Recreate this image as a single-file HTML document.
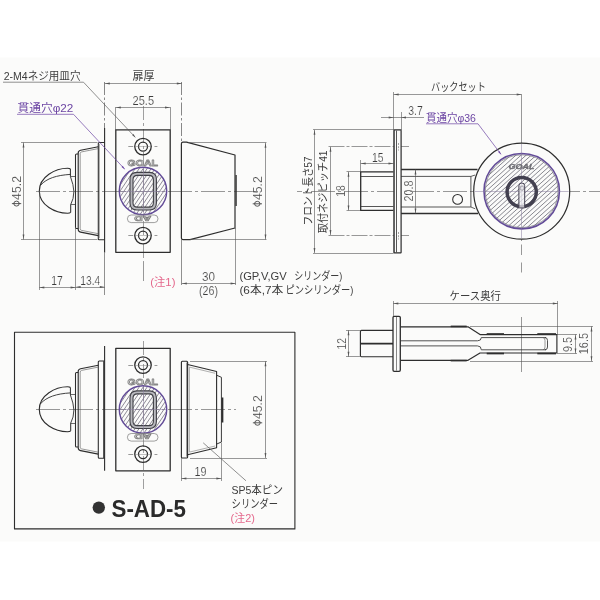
<!DOCTYPE html>
<html lang="ja"><head><meta charset="utf-8"><title>S-AD-5 寸法図</title>
<style>
html,body{margin:0;padding:0;background:#ffffff;}
body{width:600px;height:600px;overflow:hidden;font-family:"Liberation Sans","Noto Sans CJK JP",sans-serif;}
svg{display:block;font-family:"Liberation Sans","Noto Sans CJK JP",sans-serif;}
.jt{font-family:"Liberation Sans","Noto Sans CJK JP",sans-serif;stroke:none;}
</style></head><body>
<svg width="600" height="600" viewBox="0 0 600 600">
<defs>
<filter id="soft" x="0" y="0" width="600" height="600" filterUnits="userSpaceOnUse"><feGaussianBlur stdDeviation="0.38"/></filter>
</defs>
<desc>GOAL S-AD-5 本締錠 寸法図: 扉厚, バックセット, ケース奥行, フロント長さ57, 取付ネジピッチ41, 貫通穴φ22, 貫通穴φ36, 2-M4ネジ用皿穴</desc>
<rect x="0" y="0" width="600" height="600" fill="#ffffff"/>
<rect x="0" y="57.5" width="600" height="484" fill="#fbfbfa"/>
<g fill="none" stroke-linecap="butt" stroke-linejoin="round" filter="url(#soft)">
<line x1="36" y1="191.5" x2="262" y2="191.5" stroke="#555555" stroke-width="0.6" stroke-dasharray="24 3 3 3"/>
<line x1="143.5" y1="106" x2="143.5" y2="262" stroke="#555555" stroke-width="0.55" stroke-dasharray="14 3 3 3"/>
<line x1="143.5" y1="262" x2="143.5" y2="281" stroke="#555555" stroke-width="0.6" />
<line x1="104.5" y1="82" x2="104.5" y2="128" stroke="#555555" stroke-width="0.7" stroke-dasharray="13 2.5 2.5 2.5"/>
<line x1="104.5" y1="252.5" x2="104.5" y2="295" stroke="#555555" stroke-width="0.65" />
<line x1="104.6" y1="128" x2="104.6" y2="252.5" stroke="#2d2d2d" stroke-width="1.1" />
<line x1="181.5" y1="82" x2="181.5" y2="142" stroke="#555555" stroke-width="0.7" stroke-dasharray="13 2.5 2.5 2.5"/>
<line x1="181.5" y1="240" x2="181.5" y2="285" stroke="#555555" stroke-width="0.65" />
<line x1="104.8" y1="83.5" x2="181.8" y2="83.5" stroke="#555555" stroke-width="0.6" />
<path d="M104.80 83.50L109.80 82.60L109.80 84.40Z" fill="#555555" stroke="none"/>
<path d="M181.80 83.50L176.80 84.40L176.80 82.60Z" fill="#555555" stroke="none"/>
<text class="jt" transform="translate(143.7 79.6) translate(-11.25 0) scale(0.9783 1)" x="0" y="0" font-size="11.25" fill="#3c3c3c" text-anchor="start">扉厚</text>
<line x1="115.5" y1="107" x2="115.5" y2="130" stroke="#555555" stroke-width="0.6" />
<line x1="170.5" y1="107" x2="170.5" y2="130" stroke="#555555" stroke-width="0.6" />
<line x1="115.8" y1="107.5" x2="170" y2="107.5" stroke="#555555" stroke-width="0.6" />
<path d="M115.80 107.50L120.80 106.60L120.80 108.40Z" fill="#555555" stroke="none"/>
<path d="M170.00 107.50L165.00 108.40L165.00 106.60Z" fill="#555555" stroke="none"/>
<text transform="translate(143.3 104.8) scale(0.9206 1)" x="0" y="0" font-size="12" fill="#3c3c3c" text-anchor="middle" stroke="#fbfbfa" stroke-width="0.18" >25.5</text>
<path d="M115.8 129.8H170.2V252.3H115.8Z" stroke="#2d2d2d" stroke-width="1.3" fill="none" />
<circle cx="143" cy="146.6" r="8.25" stroke="#2d2d2d" stroke-width="1.3" fill="none" />
<circle cx="143" cy="146.6" r="4.5" stroke="#2d2d2d" stroke-width="1.25" fill="none" />
<line x1="135" y1="146.5" x2="151" y2="146.5" stroke="#777" stroke-width="0.45" />
<line x1="128.3" y1="146.5" x2="133.2" y2="146.5" stroke="#555555" stroke-width="0.6" />
<line x1="154.5" y1="146.5" x2="157.4" y2="146.5" stroke="#555555" stroke-width="0.6" />
<circle cx="143" cy="235.6" r="8.25" stroke="#2d2d2d" stroke-width="1.3" fill="none" />
<circle cx="143" cy="235.6" r="4.5" stroke="#2d2d2d" stroke-width="1.25" fill="none" />
<line x1="135" y1="235.5" x2="151" y2="235.5" stroke="#777" stroke-width="0.45" />
<line x1="128.3" y1="235.5" x2="133.2" y2="235.5" stroke="#555555" stroke-width="0.6" />
<line x1="154.5" y1="235.5" x2="157.4" y2="235.5" stroke="#555555" stroke-width="0.6" />
<clipPath id="hc1"><circle cx="143" cy="191" r="23.7"/></clipPath>
<path clip-path="url(#hc1)" d="M119.47 186.01L129.56 171.05M118.77 192.95L135.73 167.80M119.50 197.77L140.47 166.67M120.87 201.64L144.57 166.49M122.66 204.88L148.25 166.94M124.78 207.64L151.60 167.88M127.19 209.97L154.67 169.23M129.86 211.91L157.47 170.98M132.79 213.47L160.01 173.11M135.99 214.63L162.28 175.64M139.49 215.34L164.26 178.62M143.35 215.51L165.86 182.15M147.72 214.93L166.96 186.42M152.97 213.06L167.19 191.98" stroke="#827f8b" stroke-width="0.9" fill="none"/>
<circle cx="143" cy="191" r="23.7" stroke="#634c98" stroke-width="1.45" fill="none" />
<path d="M131.5 179.49999999999997Q131.5 173.89999999999998 137.1 173.89999999999998H149.29999999999998Q154.89999999999998 173.89999999999998 154.89999999999998 179.49999999999997V202.9Q154.89999999999998 208.5 149.29999999999998 208.5H137.1Q131.5 208.5 131.5 202.9Z" stroke="#b9b9be" stroke-width="3.0" fill="none" />
<path d="M130.0 179.39999999999998Q130.0 172.39999999999998 137.0 172.39999999999998H149.39999999999998Q156.39999999999998 172.39999999999998 156.39999999999998 179.39999999999998V203.0Q156.39999999999998 210.0 149.39999999999998 210.0H137.0Q130.0 210.0 130.0 203.0Z" stroke="#404046" stroke-width="1.1" fill="none" />
<path d="M133.0 179.79999999999998Q133.0 175.39999999999998 137.4 175.39999999999998H148.99999999999997Q153.39999999999998 175.39999999999998 153.39999999999998 179.79999999999998V202.7Q153.39999999999998 207.1 148.99999999999997 207.1H137.4Q133.0 207.1 133.0 202.7Z" stroke="#404046" stroke-width="1.1" fill="none" />
<line x1="120" y1="191.5" x2="166" y2="191.5" stroke="#8d7fa3" stroke-width="0.5" />
<line x1="143.5" y1="168" x2="143.5" y2="214" stroke="#8d7fa3" stroke-width="0.5" />
<text transform="translate(142.7 166.4) scale(1.1034 1)" x="0" y="0" font-size="9.6" font-weight="bold" text-anchor="middle" fill="#e6e6e6" stroke="#878787" stroke-width="0.85">GOAL</text>
<rect x="127.4" y="215" width="30.6" height="7.6" rx="3.8" fill="none" stroke="#808080" stroke-width="0.75"/>
<text transform="translate(142.7 215.9) rotate(180) scale(1.4713 1)" x="0" y="0" font-size="8" font-weight="bold" text-anchor="middle" fill="#e4e4e4" stroke="#7c7c7c" stroke-width="0.7">AD</text>
<path d="M104.6 142.5H99.3Q98.3 142.5 98.3 143.5V238.7Q98.3 239.7 99.3 239.7H104.6" stroke="#2d2d2d" stroke-width="1.1" fill="none" />
<line x1="99.5" y1="144" x2="99.5" y2="238.2" stroke="#666" stroke-width="0.5" />
<path d="M98.3 146.7L80.6 150.2Q78.2 150.7 78.2 153V229.3Q78.2 231.6 80.6 232.1L98.3 235.6" stroke="#2d2d2d" stroke-width="1.15" fill="none" />
<path d="M98.3 148.6L81.6 151.9Q80.2 152.2 80.2 153.6V228.7Q80.2 230.1 81.6 230.4L98.3 233.7" stroke="#555" stroke-width="0.6" fill="none" />
<path d="M78.2 154H76.5Q75.5 154 75.5 155V227.4Q75.5 228.4 76.5 228.4H78.2" stroke="#2d2d2d" stroke-width="1.05" fill="none" />
<path d="M70.4 169Q69.6 168.2 67.5 168.2C55.5 168.2 39.3 176.5 39.3 191C39.3 205.5 55.5 213.2 67.5 213.2Q69.8 213.2 70.7 212.4" stroke="#2d2d2d" stroke-width="1.15" fill="none" />
<path d="M40.8 185C46.5 178.5 56.5 175.2 70.4 174.4" stroke="#2d2d2d" stroke-width="0.9" fill="none" />
<path d="M70.4 169V176.4M70.7 212.4V204.6" stroke="#2d2d2d" stroke-width="1.0" fill="none" />
<path d="M70.4 176.4Q73.6 185 73.9 191.5Q73.8 199 70.7 204.6" stroke="#2d2d2d" stroke-width="0.9" fill="none" />
<line x1="70.4" y1="176.5" x2="75.5" y2="176.5" stroke="#2d2d2d" stroke-width="0.7" />
<line x1="70.7" y1="204.5" x2="75.5" y2="204.5" stroke="#2d2d2d" stroke-width="0.7" />
<text class="jt" transform="translate(3.7 79.8) translate(0.00 0) scale(0.9604 1)" x="0" y="0" font-size="11" fill="#3c3c3c" text-anchor="start">2-M4ネジ用皿穴</text>
<path d="M3 82.2H83.5L134.8 136.8" stroke="#555555" stroke-width="0.65" fill="none" />
<path d="M135.90 137.90L132.25 135.15L133.42 134.06Z" fill="#555555" stroke="none"/>
<text class="jt" transform="translate(17.5 111.8) translate(0.00 0) scale(1.0665 1)" x="0" y="0" font-size="11" fill="#6c45a3" text-anchor="start">貫通穴φ22</text>
<path d="M17 114.3H73.5L124.3 168.7" stroke="#6c45a3" stroke-width="0.7" fill="none" />
<path d="M125.20 169.70L121.55 166.95L122.72 165.86Z" fill="#6c45a3" stroke="none"/>
<line x1="21" y1="142.5" x2="97.5" y2="142.5" stroke="#555555" stroke-width="0.6" />
<line x1="21" y1="239.5" x2="97.5" y2="239.5" stroke="#555555" stroke-width="0.6" />
<line x1="23.5" y1="142.6" x2="23.5" y2="239.6" stroke="#555555" stroke-width="0.6" />
<path d="M23.50 142.60L24.40 147.60L22.60 147.60Z" fill="#555555" stroke="none"/>
<path d="M23.50 239.60L22.60 234.60L24.40 234.60Z" fill="#555555" stroke="none"/>
<g transform="translate(20.8 191.2) rotate(-90)">
<ellipse cx="-12.40" cy="-4.3" rx="2.45" ry="2.7" fill="none" stroke="#3c3c3c" stroke-width="0.85"/>
<line x1="-12.40" y1="0.4" x2="-12.40" y2="-8.9" stroke="#3c3c3c" stroke-width="0.85"/>
<text transform="translate(-8.70 0) scale(1.0276 1)" x="0" y="0" font-size="12" fill="#3c3c3c" text-anchor="start" stroke="#fbfbfa" stroke-width="0.18">45.2</text>
</g>
<line x1="39.5" y1="191" x2="39.5" y2="290" stroke="#555555" stroke-width="0.6" />
<line x1="75.5" y1="227" x2="75.5" y2="290" stroke="#555555" stroke-width="0.6" />
<line x1="39.3" y1="287.5" x2="75.6" y2="287.5" stroke="#555555" stroke-width="0.6" />
<path d="M39.30 287.50L44.30 286.60L44.30 288.40Z" fill="#555555" stroke="none"/>
<path d="M75.60 287.50L70.60 288.40L70.60 286.60Z" fill="#555555" stroke="none"/>
<line x1="75.6" y1="287.5" x2="104.8" y2="287.5" stroke="#555555" stroke-width="0.6" />
<path d="M75.60 287.00L80.60 286.10L80.60 287.90Z" fill="#555555" stroke="none"/>
<path d="M104.80 287.00L99.80 287.90L99.80 286.10Z" fill="#555555" stroke="none"/>
<text transform="translate(57 284.6) scale(0.8616 1)" x="0" y="0" font-size="12" fill="#3c3c3c" text-anchor="middle" stroke="#fbfbfa" stroke-width="0.18" >17</text>
<text transform="translate(90.3 284.6) scale(0.8563 1)" x="0" y="0" font-size="12" fill="#3c3c3c" text-anchor="middle" stroke="#fbfbfa" stroke-width="0.18" >13.4</text>
<path d="M183 142.2H186.5L235 155V228L190 239.6H183Q181.4 239.6 181.4 238V143.8Q181.4 142.2 183 142.2Z" stroke="#2d2d2d" stroke-width="1.2" fill="none" />
<path d="M236.1 175V206" stroke="#2d2d2d" stroke-width="1.3" fill="none" />
<line x1="188" y1="142.5" x2="266.5" y2="142.5" stroke="#555555" stroke-width="0.6" />
<line x1="190" y1="239.5" x2="266.5" y2="239.5" stroke="#555555" stroke-width="0.6" />
<line x1="265.5" y1="142.8" x2="265.5" y2="239.6" stroke="#555555" stroke-width="0.6" />
<path d="M265.50 142.80L266.40 147.80L264.60 147.80Z" fill="#555555" stroke="none"/>
<path d="M265.50 239.60L264.60 234.60L266.40 234.60Z" fill="#555555" stroke="none"/>
<g transform="translate(261.6 191.4) rotate(-90)">
<ellipse cx="-12.40" cy="-4.3" rx="2.45" ry="2.7" fill="none" stroke="#3c3c3c" stroke-width="0.85"/>
<line x1="-12.40" y1="0.4" x2="-12.40" y2="-8.9" stroke="#3c3c3c" stroke-width="0.85"/>
<text transform="translate(-8.70 0) scale(1.0276 1)" x="0" y="0" font-size="12" fill="#3c3c3c" text-anchor="start" stroke="#fbfbfa" stroke-width="0.18">45.2</text>
</g>
<line x1="235.5" y1="228" x2="235.5" y2="285" stroke="#555555" stroke-width="0.6" />
<line x1="181.8" y1="283.5" x2="235.6" y2="283.5" stroke="#555555" stroke-width="0.6" />
<path d="M181.80 283.50L186.80 282.60L186.80 284.40Z" fill="#555555" stroke="none"/>
<path d="M235.60 283.50L230.60 284.40L230.60 282.60Z" fill="#555555" stroke="none"/>
<text transform="translate(208.6 281.3) scale(0.9740 1)" x="0" y="0" font-size="12" fill="#3c3c3c" text-anchor="middle" stroke="#fbfbfa" stroke-width="0.18" >30</text>
<text transform="translate(208.5 294.5) scale(0.8904 1)" x="0" y="0" font-size="12" fill="#3c3c3c" text-anchor="middle" stroke="#fbfbfa" stroke-width="0.18" >(26)</text>
<text class="jt" transform="translate(150.3 285.6) translate(0.00 0) scale(1.0003 1)" x="0" y="0" font-size="11.3" fill="#e4688c" text-anchor="start">(注1)</text>
<text class="jt" transform="translate(239.4 280) translate(0.00 0) scale(1.0188 1)" x="0" y="0" font-size="11" fill="#3c3c3c" text-anchor="start">(GP,V,GV</text>
<text class="jt" transform="translate(294.2 280) translate(0.00 0) scale(0.8199 1)" x="0" y="0" font-size="11" fill="#3c3c3c" text-anchor="start">シリンダー)</text>
<text class="jt" transform="translate(239.4 293.8) translate(0.00 0) scale(1.0735 1)" x="0" y="0" font-size="11" fill="#3c3c3c" text-anchor="start">(6本,7本</text>
<text class="jt" transform="translate(285.6 293.8) translate(0.00 0) scale(0.8417 1)" x="0" y="0" font-size="11" fill="#3c3c3c" text-anchor="start">ピンシリンダー)</text>
<line x1="297" y1="191.5" x2="600" y2="191.5" stroke="#555555" stroke-width="0.6" stroke-dasharray="5 3 3 3 24 3 3 3 24 3 3 3 24 3 3 3 24 3 3 3 24 3 3 3 24 3 3 3"/>
<line x1="521.5" y1="94.5" x2="521.5" y2="241" stroke="#555555" stroke-width="0.6" />
<line x1="521.5" y1="244.5" x2="521.5" y2="255" stroke="#555555" stroke-width="0.6" />
<line x1="521.5" y1="262.5" x2="521.5" y2="272.5" stroke="#555555" stroke-width="0.6" />
<line x1="393.5" y1="92" x2="393.5" y2="130" stroke="#555555" stroke-width="0.6" />
<line x1="393.7" y1="94.5" x2="521.7" y2="94.5" stroke="#555555" stroke-width="0.6" />
<path d="M393.70 94.50L398.70 93.60L398.70 95.40Z" fill="#555555" stroke="none"/>
<path d="M521.70 94.50L516.70 95.40L516.70 93.60Z" fill="#555555" stroke="none"/>
<text class="jt" transform="translate(458.5 91) translate(-27.50 0) scale(0.8333 1)" x="0" y="0" font-size="11" fill="#3c3c3c" text-anchor="start">バックセット</text>
<line x1="401.5" y1="112" x2="401.5" y2="130" stroke="#555555" stroke-width="0.6" />
<line x1="381" y1="117.5" x2="424" y2="117.5" stroke="#555555" stroke-width="0.6" />
<path d="M393.70 117.50L388.70 118.40L388.70 116.60Z" fill="#555555" stroke="none"/>
<path d="M401.00 117.50L406.00 116.60L406.00 118.40Z" fill="#555555" stroke="none"/>
<text transform="translate(415.5 115.2) scale(0.8692 1)" x="0" y="0" font-size="12" fill="#3c3c3c" text-anchor="middle" stroke="#fbfbfa" stroke-width="0.18" >3.7</text>
<line x1="313" y1="129.5" x2="393.5" y2="129.5" stroke="#555555" stroke-width="0.6" />
<line x1="313" y1="253.5" x2="393.5" y2="253.5" stroke="#555555" stroke-width="0.6" />
<line x1="314.5" y1="129.8" x2="314.5" y2="253" stroke="#555555" stroke-width="0.6" />
<path d="M314.50 129.80L315.40 134.80L313.60 134.80Z" fill="#555555" stroke="none"/>
<path d="M314.50 253.00L313.60 248.00L315.40 248.00Z" fill="#555555" stroke="none"/>
<text class="jt" transform="translate(311.5 190.5) rotate(-90) translate(-35.00 0) scale(0.8810 1)" x="0" y="0" font-size="11" fill="#3c3c3c" text-anchor="start">フロント長さ57</text>
<line x1="328.5" y1="146.5" x2="409" y2="146.5" stroke="#555555" stroke-width="0.6" stroke-dasharray="16 2 3 2"/>
<line x1="328.5" y1="235.5" x2="409" y2="235.5" stroke="#555555" stroke-width="0.6" stroke-dasharray="16 2 3 2"/>
<line x1="330.5" y1="146.8" x2="330.5" y2="235" stroke="#555555" stroke-width="0.6" />
<path d="M330.50 146.80L331.40 151.80L329.60 151.80Z" fill="#555555" stroke="none"/>
<path d="M330.50 235.00L329.60 230.00L331.40 230.00Z" fill="#555555" stroke="none"/>
<text class="jt" transform="translate(327.3 191.3) rotate(-90) translate(-42.00 0) scale(0.9286 1)" x="0" y="0" font-size="11" fill="#3c3c3c" text-anchor="start">取付ネジピッチ41</text>
<line x1="360.5" y1="160" x2="360.5" y2="172" stroke="#555555" stroke-width="0.6" />
<line x1="360.7" y1="163.5" x2="393.5" y2="163.5" stroke="#555555" stroke-width="0.6" />
<path d="M360.70 163.50L365.70 162.60L365.70 164.40Z" fill="#555555" stroke="none"/>
<path d="M393.50 163.50L388.50 164.40L388.50 162.60Z" fill="#555555" stroke="none"/>
<text transform="translate(377.7 161.5) scale(0.8616 1)" x="0" y="0" font-size="12" fill="#3c3c3c" text-anchor="middle" stroke="#fbfbfa" stroke-width="0.18" >15</text>
<line x1="346.5" y1="171.5" x2="360.7" y2="171.5" stroke="#555555" stroke-width="0.6" />
<line x1="346.5" y1="210.5" x2="360.7" y2="210.5" stroke="#555555" stroke-width="0.6" />
<line x1="348.5" y1="171.8" x2="348.5" y2="210.4" stroke="#555555" stroke-width="0.6" />
<path d="M348.50 171.80L349.40 176.80L347.60 176.80Z" fill="#555555" stroke="none"/>
<path d="M348.50 210.40L347.60 205.40L349.40 205.40Z" fill="#555555" stroke="none"/>
<text transform="translate(345.2 191) rotate(-90) scale(0.8616 1)" x="0" y="0" font-size="12" fill="#3c3c3c" text-anchor="middle" stroke="#fbfbfa" stroke-width="0.18" >18</text>
<path d="M393.5 171.8H360.7V210.4H393.5" stroke="#2d2d2d" stroke-width="1.3" fill="none" />
<line x1="360.7" y1="176.5" x2="393.5" y2="176.5" stroke="#2d2d2d" stroke-width="0.8" />
<line x1="360.7" y1="206.5" x2="393.5" y2="206.5" stroke="#2d2d2d" stroke-width="0.8" />
<path d="M401 169.5H477.5" stroke="#2d2d2d" stroke-width="1.3" fill="none" />
<path d="M401 213.5H478" stroke="#2d2d2d" stroke-width="1.3" fill="none" />
<path d="M401 176.4H470.9V207H401" stroke="#3a3a3a" stroke-width="0.85" fill="none" />
<path d="M470.9 176.4L475.2 175M470.9 207L475.2 208.8" stroke="#3a3a3a" stroke-width="0.8" fill="none" />
<circle cx="457.6" cy="199.4" r="4.9" stroke="#2d2d2d" stroke-width="1.05" fill="none" />
<path d="M394.4 129.9H400.6Q401.1 129.9 401.1 130.4V252.4Q401.1 252.9 400.6 252.9H394.4Q393.9 252.9 393.9 252.4V130.4Q393.9 129.9 394.4 129.9Z" stroke="#2d2d2d" stroke-width="1.2" fill="#fbfbfa" />
<line x1="394.5" y1="130" x2="394.5" y2="252.8" stroke="#2d2d2d" stroke-width="0.5" />
<line x1="396.5" y1="130.5" x2="396.5" y2="252.4" stroke="#444" stroke-width="0.9" />
<line x1="398.5" y1="143" x2="398.5" y2="150.5" stroke="#666" stroke-width="0.6" stroke-dasharray="2 1.2"/>
<line x1="398.5" y1="232" x2="398.5" y2="239.5" stroke="#666" stroke-width="0.6" stroke-dasharray="2 1.2"/>
<line x1="415.5" y1="169.5" x2="415.5" y2="213.5" stroke="#555555" stroke-width="0.6" />
<path d="M415.50 169.50L416.40 174.50L414.60 174.50Z" fill="#555555" stroke="none"/>
<path d="M415.50 213.50L414.60 208.50L416.40 208.50Z" fill="#555555" stroke="none"/>
<text transform="translate(412.6 191) rotate(-90) scale(0.8991 1)" x="0" y="0" font-size="12" fill="#3c3c3c" text-anchor="middle" stroke="#fbfbfa" stroke-width="0.18" >20.8</text>
<circle cx="521.7" cy="191.2" r="48" stroke="#2d2d2d" stroke-width="1.2" fill="#fbfbfa" />
<clipPath id="hc2"><circle cx="521.7" cy="191.2" r="36.8"/></clipPath>
<path clip-path="url(#hc2)" d="M487.74 176.02L510.16 155.84M485.29 182.81L517.16 154.11M484.34 188.24L522.66 153.73M484.17 192.96L527.38 154.06M484.55 197.20L531.55 154.88M485.33 201.07L535.32 156.06M486.45 204.64L538.75 157.54M487.86 207.95L541.89 159.29M489.53 211.02L544.77 161.28M491.45 213.86L547.40 163.49M493.61 216.49L549.79 165.91M496.00 218.91L551.95 168.54M498.63 221.12L553.87 171.38M501.51 223.11L555.54 174.45M504.65 224.86L556.95 177.76M508.08 226.34L558.07 181.33M511.85 227.52L558.85 185.20M516.02 228.34L559.23 189.44M520.74 228.67L559.06 194.16M526.24 228.29L558.11 199.59M533.24 226.56L555.66 206.38" stroke="#82828a" stroke-width="0.95" fill="none"/>
<circle cx="521.7" cy="191.2" r="36.4" stroke="#77777d" stroke-width="0.7" fill="none" />
<circle cx="521.7" cy="191.2" r="37.7" stroke="#634c98" stroke-width="1.6" fill="none" />
<line x1="474.70000000000005" y1="191.5" x2="568.7" y2="191.5" stroke="#85789c" stroke-width="0.5" />
<line x1="521.5" y1="144" x2="521.5" y2="238" stroke="#85789c" stroke-width="0.5" />
<circle cx="521.7" cy="192.1" r="14.6" stroke="#433f50" stroke-width="3.5" fill="none" />
<path d="M518.9 207.5V185.7Q518.9 183 521.8 183Q524.7 183 524.7 185.7V207.5" stroke="#433f50" stroke-width="1.0" fill="rgba(240,240,242,0.7)" />
<path d="M520.3 186.2H523.3V190H520.3Z" stroke="#77737f" stroke-width="0.5" fill="none" />
<text transform="translate(521.6 169.3) scale(1.3236 1)" x="0" y="0" font-size="6.8" font-weight="bold" font-style="italic" text-anchor="middle" fill="#6e6e74" stroke="#6e6e74" stroke-width="0.35">GOAL</text>
<text class="jt" transform="translate(426 121.5) translate(0.00 0) scale(0.9522 1)" x="0" y="0" font-size="11" fill="#6c45a3" text-anchor="start">貫通穴φ36</text>
<path d="M426 123.8H478L500.6 153.8" stroke="#6c45a3" stroke-width="0.7" fill="none" />
<path d="M501.50 155.00L498.15 151.89L499.43 150.92Z" fill="#6c45a3" stroke="none"/>
<line x1="521.5" y1="317" x2="521.5" y2="372" stroke="#555555" stroke-width="0.6" />
<line x1="393.5" y1="301" x2="393.5" y2="317" stroke="#555555" stroke-width="0.6" />
<line x1="557.5" y1="301" x2="557.5" y2="335" stroke="#555555" stroke-width="0.6" />
<line x1="393.3" y1="303.5" x2="557.8" y2="303.5" stroke="#555555" stroke-width="0.6" />
<path d="M393.30 303.50L398.30 302.60L398.30 304.40Z" fill="#555555" stroke="none"/>
<path d="M557.80 303.50L552.80 304.40L552.80 302.60Z" fill="#555555" stroke="none"/>
<text class="jt" transform="translate(475.5 300.3) translate(-26.00 0) scale(0.9455 1)" x="0" y="0" font-size="11" fill="#3c3c3c" text-anchor="start">ケース奥行</text>
<path d="M393 330.3H361.5Q360.4 330.3 360.4 331.4V355.6Q360.4 356.7 361.5 356.7H393" stroke="#2d2d2d" stroke-width="1.15" fill="none" />
<line x1="360.4" y1="343.6" x2="393" y2="343.6" stroke="#2d2d2d" stroke-width="1.9" />
<path d="M400.5 326.8H468L480 334.6H556.9V353H480L468 360.3H400.5" stroke="#2d2d2d" stroke-width="1.15" fill="none" />
<path d="M400.5 340.8H477.5Q481.3 340.8 481.3 337.6H546M400.5 345.9H477.5Q481.3 345.9 481.3 349.8H546" stroke="#333" stroke-width="0.85" fill="none" />
<path d="M545 337.6Q547.5 337.6 547.5 340.5V347Q547.5 349.8 545 349.8" stroke="#333" stroke-width="0.85" fill="none" />
<path d="M543 337.6Q545 338 545 340.5V347Q545 349.5 543 349.8" stroke="#555" stroke-width="0.6" fill="none" />
<line x1="486.7" y1="334" x2="504" y2="334" stroke="#2d2d2d" stroke-width="1.7" />
<line x1="486.7" y1="353.5" x2="504" y2="353.5" stroke="#2d2d2d" stroke-width="1.7" />
<line x1="537.3" y1="334" x2="556" y2="334" stroke="#2d2d2d" stroke-width="1.7" />
<line x1="537.3" y1="353.5" x2="556" y2="353.5" stroke="#2d2d2d" stroke-width="1.7" />
<line x1="450.7" y1="326.4" x2="466.7" y2="326.4" stroke="#2d2d2d" stroke-width="1.6" />
<line x1="450.7" y1="360.6" x2="466.7" y2="360.6" stroke="#2d2d2d" stroke-width="1.6" />
<path d="M394.2 316.4H399.1Q400.3 316.4 400.3 317.6V370.1Q400.3 371.3 399.1 371.3H394.2Q393 371.3 393 370.1V317.6Q393 316.4 394.2 316.4Z" stroke="#2d2d2d" stroke-width="1.3" fill="#fbfbfa" />
<line x1="396.5" y1="317" x2="396.5" y2="370.6" stroke="#555" stroke-width="0.7" />
<line x1="346" y1="330.5" x2="360.4" y2="330.5" stroke="#555555" stroke-width="0.6" />
<line x1="346" y1="356.5" x2="360.4" y2="356.5" stroke="#555555" stroke-width="0.6" />
<line x1="348.5" y1="330.3" x2="348.5" y2="356.7" stroke="#555555" stroke-width="0.6" />
<path d="M348.50 330.30L349.40 335.30L347.60 335.30Z" fill="#555555" stroke="none"/>
<path d="M348.50 356.70L347.60 351.70L349.40 351.70Z" fill="#555555" stroke="none"/>
<text transform="translate(345.5 343.8) rotate(-90) scale(0.8616 1)" x="0" y="0" font-size="12" fill="#3c3c3c" text-anchor="middle" stroke="#fbfbfa" stroke-width="0.18" >12</text>
<line x1="557" y1="334.5" x2="577" y2="334.5" stroke="#555555" stroke-width="0.6" />
<line x1="557" y1="353.5" x2="577" y2="353.5" stroke="#555555" stroke-width="0.6" />
<line x1="470" y1="326.5" x2="593" y2="326.5" stroke="#555555" stroke-width="0.6" />
<line x1="470" y1="361.5" x2="593" y2="361.5" stroke="#555555" stroke-width="0.6" />
<line x1="575.5" y1="334.4" x2="575.5" y2="353.4" stroke="#555555" stroke-width="0.6" />
<path d="M575.50 334.40L576.40 339.40L574.60 339.40Z" fill="#555555" stroke="none"/>
<path d="M575.50 353.40L574.60 348.40L576.40 348.40Z" fill="#555555" stroke="none"/>
<line x1="591.5" y1="326.4" x2="591.5" y2="361.3" stroke="#555555" stroke-width="0.6" />
<path d="M591.50 326.40L592.40 331.40L590.60 331.40Z" fill="#555555" stroke="none"/>
<path d="M591.50 361.30L590.60 356.30L592.40 356.30Z" fill="#555555" stroke="none"/>
<text transform="translate(572 344.4) rotate(-90) scale(0.8992 1)" x="0" y="0" font-size="12" fill="#3c3c3c" text-anchor="middle" stroke="#fbfbfa" stroke-width="0.18" >9.5</text>
<text transform="translate(588.4 343.6) rotate(-90) scale(0.9120 1)" x="0" y="0" font-size="12" fill="#3c3c3c" text-anchor="middle" stroke="#fbfbfa" stroke-width="0.18" >16.5</text>
<rect x="14.5" y="332.3" width="280.4" height="196.6" fill="none" stroke="#2d2d2d" stroke-width="1.1"/>
<line x1="36" y1="409.5" x2="236" y2="409.5" stroke="#555555" stroke-width="0.6" stroke-dasharray="24 3 3 3"/>
<line x1="143.5" y1="341" x2="143.5" y2="489" stroke="#555555" stroke-width="0.55" stroke-dasharray="14 3 3 3"/>
<line x1="104.6" y1="346" x2="104.6" y2="470.8" stroke="#2d2d2d" stroke-width="1.1" />
<path d="M115.8 348.3H170.2V470.8H115.8Z" stroke="#2d2d2d" stroke-width="1.3" fill="none" />
<circle cx="143" cy="365.1" r="8.25" stroke="#2d2d2d" stroke-width="1.3" fill="none" />
<circle cx="143" cy="365.1" r="4.5" stroke="#2d2d2d" stroke-width="1.25" fill="none" />
<line x1="135" y1="365.5" x2="151" y2="365.5" stroke="#777" stroke-width="0.45" />
<line x1="128.3" y1="365.5" x2="133.2" y2="365.5" stroke="#555555" stroke-width="0.6" />
<line x1="154.5" y1="365.5" x2="157.4" y2="365.5" stroke="#555555" stroke-width="0.6" />
<circle cx="143" cy="454.1" r="8.25" stroke="#2d2d2d" stroke-width="1.3" fill="none" />
<circle cx="143" cy="454.1" r="4.5" stroke="#2d2d2d" stroke-width="1.25" fill="none" />
<line x1="135" y1="454.5" x2="151" y2="454.5" stroke="#777" stroke-width="0.45" />
<line x1="128.3" y1="454.5" x2="133.2" y2="454.5" stroke="#555555" stroke-width="0.6" />
<line x1="154.5" y1="454.5" x2="157.4" y2="454.5" stroke="#555555" stroke-width="0.6" />
<clipPath id="hc3"><circle cx="143" cy="409.5" r="23.7"/></clipPath>
<path clip-path="url(#hc3)" d="M119.47 404.51L129.56 389.55M118.77 411.45L135.73 386.30M119.50 416.27L140.47 385.17M120.87 420.14L144.57 384.99M122.66 423.38L148.25 385.44M124.78 426.14L151.60 386.38M127.19 428.47L154.67 387.73M129.86 430.41L157.47 389.48M132.79 431.97L160.01 391.61M135.99 433.13L162.28 394.14M139.49 433.84L164.26 397.12M143.35 434.01L165.86 400.65M147.72 433.43L166.96 404.92M152.97 431.56L167.19 410.48" stroke="#827f8b" stroke-width="0.9" fill="none"/>
<circle cx="143" cy="409.5" r="23.7" stroke="#634c98" stroke-width="1.45" fill="none" />
<path d="M131.5 398.0Q131.5 392.4 137.1 392.4H149.29999999999998Q154.89999999999998 392.4 154.89999999999998 398.0V421.4Q154.89999999999998 427.0 149.29999999999998 427.0H137.1Q131.5 427.0 131.5 421.4Z" stroke="#b9b9be" stroke-width="3.0" fill="none" />
<path d="M130.0 397.9Q130.0 390.9 137.0 390.9H149.39999999999998Q156.39999999999998 390.9 156.39999999999998 397.9V421.5Q156.39999999999998 428.5 149.39999999999998 428.5H137.0Q130.0 428.5 130.0 421.5Z" stroke="#404046" stroke-width="1.1" fill="none" />
<path d="M133.0 398.29999999999995Q133.0 393.9 137.4 393.9H148.99999999999997Q153.39999999999998 393.9 153.39999999999998 398.29999999999995V421.2Q153.39999999999998 425.59999999999997 148.99999999999997 425.59999999999997H137.4Q133.0 425.59999999999997 133.0 421.2Z" stroke="#404046" stroke-width="1.1" fill="none" />
<line x1="120" y1="409.5" x2="166" y2="409.5" stroke="#8d7fa3" stroke-width="0.5" />
<line x1="143.5" y1="386.5" x2="143.5" y2="432.5" stroke="#8d7fa3" stroke-width="0.5" />
<text transform="translate(142.7 384.9) scale(1.1034 1)" x="0" y="0" font-size="9.6" font-weight="bold" text-anchor="middle" fill="#e6e6e6" stroke="#878787" stroke-width="0.85">GOAL</text>
<rect x="127.4" y="433.5" width="30.6" height="7.6" rx="3.8" fill="none" stroke="#808080" stroke-width="0.75"/>
<text transform="translate(142.7 434.4) rotate(180) scale(1.4713 1)" x="0" y="0" font-size="8" font-weight="bold" text-anchor="middle" fill="#e4e4e4" stroke="#7c7c7c" stroke-width="0.7">AD</text>
<path d="M104.6 361.0H99.3Q98.3 361.0 98.3 362.0V457.2Q98.3 458.2 99.3 458.2H104.6" stroke="#2d2d2d" stroke-width="1.1" fill="none" />
<line x1="103.5" y1="361.2" x2="103.5" y2="458.0" stroke="#2d2d2d" stroke-width="0.8" />
<path d="M98.3 365.2L80.6 368.7Q78.2 369.2 78.2 371.5V447.8Q78.2 450.1 80.6 450.6L98.3 454.1" stroke="#2d2d2d" stroke-width="1.15" fill="none" />
<path d="M98.3 367.1L81.6 370.4Q80.2 370.7 80.2 372.1V447.2Q80.2 448.6 81.6 448.9L98.3 452.2" stroke="#555" stroke-width="0.6" fill="none" />
<path d="M78.2 372.5H76.5Q75.5 372.5 75.5 373.5V445.9Q75.5 446.9 76.5 446.9H78.2" stroke="#2d2d2d" stroke-width="1.05" fill="none" />
<path d="M70.4 387.5Q69.6 386.7 67.5 386.7C55.5 386.7 39.3 395.0 39.3 409.5C39.3 424.0 55.5 431.7 67.5 431.7Q69.8 431.7 70.7 430.9" stroke="#2d2d2d" stroke-width="1.15" fill="none" />
<path d="M40.8 403.5C46.5 397.0 56.5 393.7 70.4 392.9" stroke="#2d2d2d" stroke-width="0.9" fill="none" />
<path d="M70.4 387.5V394.9M70.7 430.9V423.1" stroke="#2d2d2d" stroke-width="1.0" fill="none" />
<path d="M70.4 394.9Q73.6 403.5 73.9 410.0Q73.8 417.5 70.7 423.1" stroke="#2d2d2d" stroke-width="0.9" fill="none" />
<line x1="70.4" y1="394.5" x2="75.5" y2="394.5" stroke="#2d2d2d" stroke-width="0.7" />
<line x1="70.7" y1="423.5" x2="75.5" y2="423.5" stroke="#2d2d2d" stroke-width="0.7" />
<path d="M182.4 361.2H186.6Q187.6 361.2 187.6 362.2V457.0Q187.6 458.0 186.6 458.0H182.4Q181.4 458.0 181.4 457.0V362.2Q181.4 361.2 182.4 361.2Z" stroke="#2d2d2d" stroke-width="1.15" fill="none" />
<line x1="186.5" y1="362.5" x2="186.5" y2="456.7" stroke="#555" stroke-width="0.55" />
<path d="M187.6 364.5L216.6 371.5V447.8L187.6 454.7" stroke="#2d2d2d" stroke-width="1.1" fill="none" />
<path d="M189.4 367.1L215.2 373.3M189.4 452.1L215.2 446.0M189.4 367.1V452.1" stroke="#707070" stroke-width="0.55" fill="none" />
<path d="M216.6 375.2L221.4 377.3V442.0L216.6 444.1" stroke="#2d2d2d" stroke-width="0.95" fill="none" />
<line x1="222.4" y1="397.5" x2="222.4" y2="422.5" stroke="#2d2d2d" stroke-width="1.9" />
<line x1="190" y1="361.5" x2="267" y2="361.5" stroke="#555555" stroke-width="0.6" />
<line x1="190" y1="458.5" x2="267" y2="458.5" stroke="#555555" stroke-width="0.6" />
<line x1="265.5" y1="361.2" x2="265.5" y2="458" stroke="#555555" stroke-width="0.6" />
<path d="M265.50 361.20L266.40 366.20L264.60 366.20Z" fill="#555555" stroke="none"/>
<path d="M265.50 458.00L264.60 453.00L266.40 453.00Z" fill="#555555" stroke="none"/>
<g transform="translate(261.8 410.4) rotate(-90)">
<ellipse cx="-12.40" cy="-4.3" rx="2.45" ry="2.7" fill="none" stroke="#3c3c3c" stroke-width="0.85"/>
<line x1="-12.40" y1="0.4" x2="-12.40" y2="-8.9" stroke="#3c3c3c" stroke-width="0.85"/>
<text transform="translate(-8.70 0) scale(1.0276 1)" x="0" y="0" font-size="12" fill="#3c3c3c" text-anchor="start" stroke="#fbfbfa" stroke-width="0.18">45.2</text>
</g>
<line x1="181.5" y1="458" x2="181.5" y2="481" stroke="#555555" stroke-width="0.6" />
<line x1="221.5" y1="442.5" x2="221.5" y2="481" stroke="#555555" stroke-width="0.6" />
<line x1="181.4" y1="478.5" x2="221.4" y2="478.5" stroke="#555555" stroke-width="0.6" />
<path d="M181.40 478.50L186.40 477.60L186.40 479.40Z" fill="#555555" stroke="none"/>
<path d="M221.40 478.50L216.40 479.40L216.40 477.60Z" fill="#555555" stroke="none"/>
<text transform="translate(200.6 475.8) scale(0.8990 1)" x="0" y="0" font-size="12" fill="#3c3c3c" text-anchor="middle" stroke="#fbfbfa" stroke-width="0.18" >19</text>
<line x1="203.2" y1="442.8" x2="246" y2="480.8" stroke="#555555" stroke-width="0.65" />
<text class="jt" transform="translate(231.4 494) translate(0.00 0) scale(0.9097 1)" x="0" y="0" font-size="11.6" fill="#3c3c3c" text-anchor="start">SP5本ピン</text>
<text class="jt" transform="translate(231.6 507.8) translate(0.00 0) scale(0.8000 1)" x="0" y="0" font-size="11.6" fill="#3c3c3c" text-anchor="start">シリンダー</text>
<text class="jt" transform="translate(230.6 522.4) translate(0.00 0) scale(0.9663 1)" x="0" y="0" font-size="11.3" fill="#e4688c" text-anchor="start">(注2)</text>
<circle cx="98.8" cy="507.6" r="6.2" stroke="none" stroke-width="0" fill="#333333" />
<text transform="translate(111.5 517) scale(0.9717 1)" x="0" y="0" font-size="23" fill="#2a2a2a" text-anchor="start" font-weight="bold" >S-AD-5</text>
</g></svg></body></html>
